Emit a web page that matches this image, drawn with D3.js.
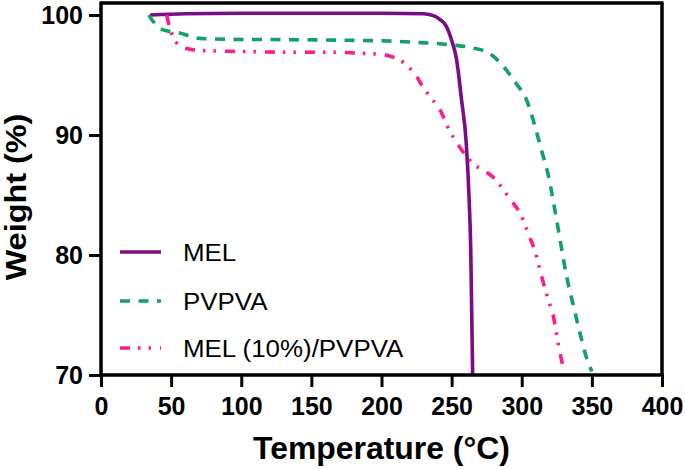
<!DOCTYPE html>
<html><head><meta charset="utf-8">
<script src="https://cdn.jsdelivr.net/npm/d3@7"></script>
<style>body{margin:0;background:#fff}svg{display:block}text{font-family:Arial,"Liberation Sans",sans-serif}</style>
</head><body><svg id="c" width="685" height="469"></svg>
<script>
const xTicks = [0,50,100,150,200,250,300,350,400];
const yTicks = [70,80,90,100];
const seriesNames = ["MEL","PVPVA","MEL (10%)/PVPVA"];
const melT = [35,60,100,150,200,230,238,242,246,250,253.5,257,260.5,262.5,263.6,265];
const melW = [100,100.1,100.15,100.15,100.15,100.1,99.9,99.6,99.1,97.9,96.3,93,89.2,84.6,80.7,70];
const pvT = [34,36.3,42,48,56,70,94,130,170,200,228,251,265,277,287,296,303.5,309.5,314,319,324,328,332,337,341.5,346,350];
const pvW = [100,99.6,98.9,98.65,98.5,98.05,97.97,97.95,97.9,97.85,97.7,97.5,97.25,96.8,95.7,94.3,92.9,90.7,88.75,86.6,83.5,80.8,78.2,75.7,73.5,71.5,70.3];
const mixT = [46.8,48,50,53,61,70,82,104,130,163,187,201,208,213,220,225,229,234.6,241.7,248.8,254.6,260,265.5,275,282,287,292.8,298.7,305.9,309.5,314.2,319,322.5,326,329.6];
const mixW = [100,99.4,98.6,97.8,97.2,97.05,97.0,96.95,96.9,96.9,96.8,96.7,96.5,96.25,95.6,94.9,94.1,93.2,92.1,90.3,89.2,88.3,87.6,86.9,86.2,85.4,84.5,83.5,81.4,80.3,78.2,76.25,74.9,72.6,70.6];

const colors = ["#7B0C86","#12A065","#FF1C8D"];
const dashes = [null,"10,8.5","10,8,2.5,8,2.5,9"];
const series = [
  {name:seriesNames[0], pts:melT.map((t,i)=>[t,melW[i]])},
  {name:seriesNames[1], pts:pvT.map((t,i)=>[t,pvW[i]])},
  {name:seriesNames[2], pts:mixT.map((t,i)=>[t,mixW[i]])}
];

const svg = d3.select("#c");
const L=101,R=662,T=3,B=375;
const x = d3.scaleLinear().domain([0,400]).range([L,R]);
const y = d3.scaleLinear().domain([70,100]).range([B,15]);

// frame top/right
svg.append("line").attr("x1",L).attr("x2",R+1.5).attr("y1",T).attr("y2",T).attr("stroke","#000").attr("stroke-width",3.5);
svg.append("line").attr("x1",R).attr("x2",R).attr("y1",T).attr("y2",B).attr("stroke","#000").attr("stroke-width",3.5);

const line = d3.line().x(d=>x(d[0])).y(d=>y(d[1])).curve(d3.curveMonotoneX);
series.forEach((s,i)=>{
  svg.append("path").attr("d",line(s.pts)).attr("fill","none")
    .attr("stroke",colors[i]).attr("stroke-width",3.6)
    .attr("stroke-dasharray",dashes[i]).attr("stroke-linecap","butt");
});

// axes
const xa = svg.append("g").attr("transform",`translate(0,${B})`)
  .call(d3.axisBottom(x).tickValues(xTicks).tickSize(12).tickPadding(10).tickFormat(d3.format("d")));
const ya = svg.append("g").attr("transform",`translate(${L},0)`)
  .call(d3.axisLeft(y).tickValues(yTicks).tickSize(12).tickPadding(6).tickFormat(d3.format("d")));
[xa,ya].forEach(a=>{
  a.select(".domain").remove();
  a.selectAll(".tick line").attr("stroke","#000").attr("stroke-width",3);
  a.selectAll(".tick text").attr("fill","#000").style("font-size","25px").style("font-weight","bold");
});
svg.append("line").attr("x1",L).attr("x2",L).attr("y1",T-1.5).attr("y2",B).attr("stroke","#000").attr("stroke-width",3.5);
svg.append("line").attr("x1",L).attr("x2",R+1.5).attr("y1",B).attr("y2",B).attr("stroke","#000").attr("stroke-width",3.5);

// titles
svg.append("text").attr("transform",`translate(${(L+R)/2},459) scale(1.03,1)`).attr("text-anchor","middle")
  .style("font-size","31px").style("font-weight","bold").text("Temperature (°C)");
svg.append("text").attr("transform","translate(26,197) rotate(-90) scale(1.08,1)").attr("text-anchor","middle")
  .style("font-size","30px").style("font-weight","bold").text("Weight (%)");

// legend
const ly = [252,301,348];
series.forEach((s,i)=>{
  svg.append("line").attr("x1",120).attr("x2",161).attr("y1",ly[i]).attr("y2",ly[i])
    .attr("stroke",colors[i]).attr("stroke-width",3.6).attr("stroke-dasharray",dashes[i]);
  svg.append("text").attr("transform",`translate(183,${ly[i]+8.5}) scale(1.08,1)`)
    .style("font-size","24px").attr("fill","#000").text(s.name);
});
</script></body></html>
